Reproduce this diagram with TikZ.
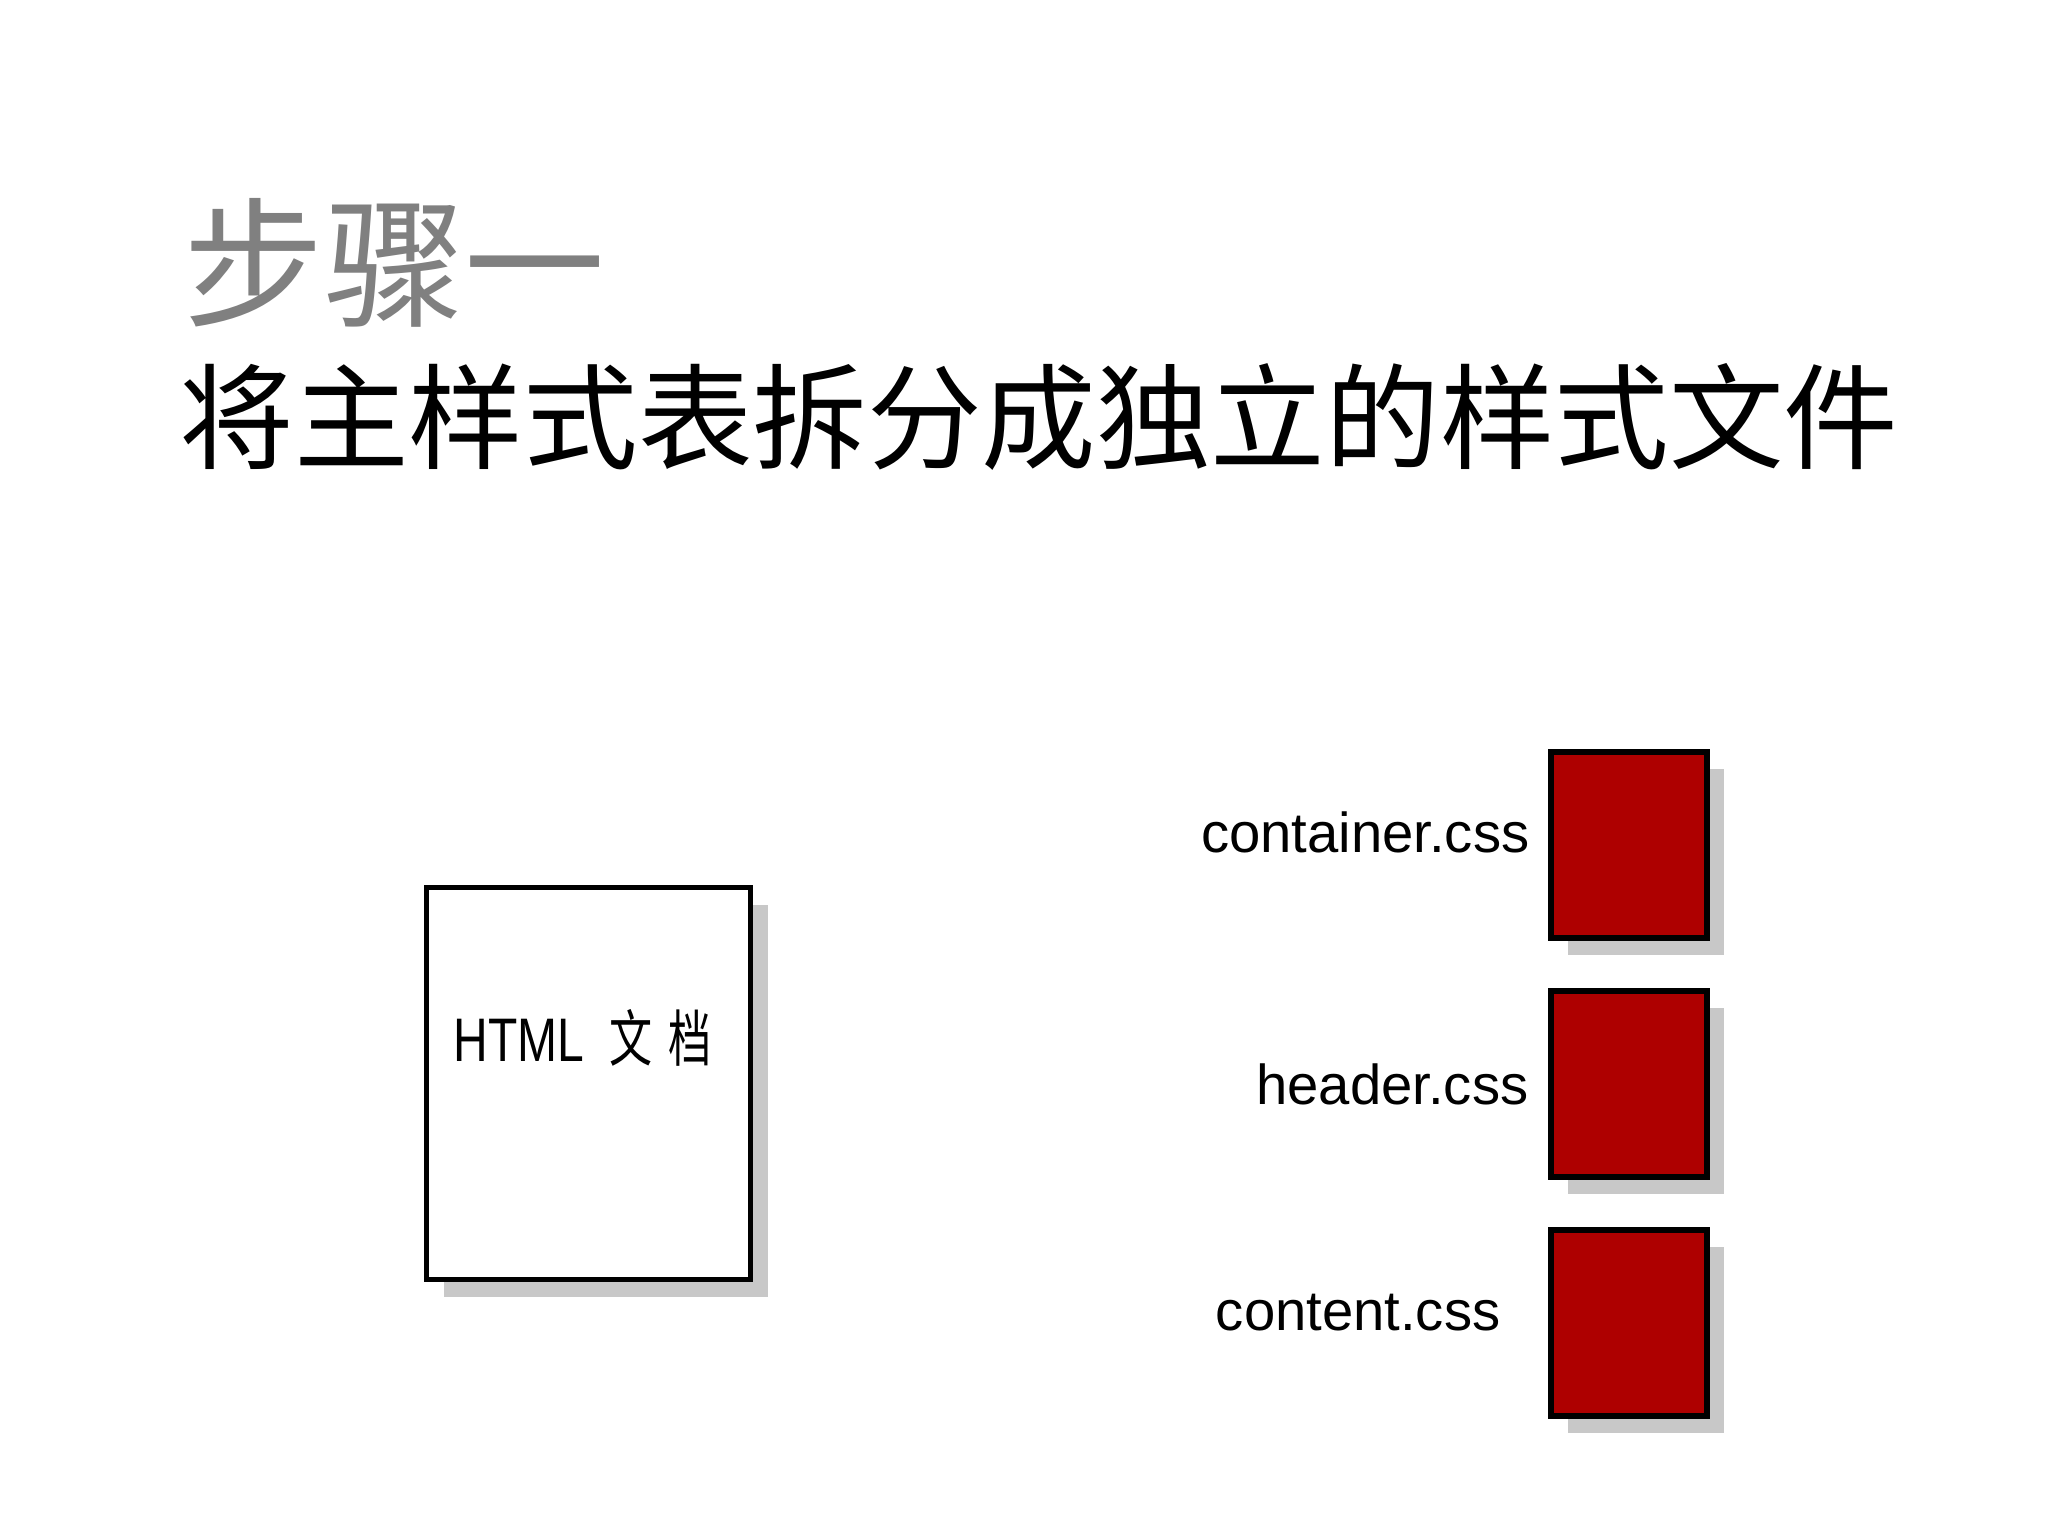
\documentclass[tikz,border=0pt]{standalone}
\usepackage{fontspec}
\setmainfont{Liberation Sans}
\newfontfamily\cjk{Noto Sans CJK SC}
\usetikzlibrary{shadows}
\definecolor{cssred}{RGB}{174,0,0}
\definecolor{shadowgray}{RGB}{200,200,200}
\definecolor{titlegray}{RGB}{128,128,128}

\begin{document}
\begin{tikzpicture}[x=0.1mm, y=-0.1mm,
  doc/.style={draw, line width=1.5pt, minimum width=32.4mm, minimum height=39.2mm, inner sep=0pt, fill=white, drop shadow={shadow xshift=1.7mm, shadow yshift=-1.7mm, fill=shadowgray, opacity=1}},
  cssfile/.style={doc, fill=cssred, minimum width=15.6mm, minimum height=18.6mm},
  filename/.style={anchor=base east, inner sep=0pt, font=\fontsize{16}{19}\selectfont}]
\useasboundingbox[fill=white] (0,0) rectangle (2048,1536);
\node[anchor=base west, inner sep=0pt, text=titlegray, font=\cjk\fontsize{40}{48}\selectfont] (step) at (183,316) {步骤一};
\node[anchor=base west, inner sep=0pt, font=\cjk\fontsize{32.6}{39}\selectfont] (goal) at (179,460) {将主样式表拆分成独立的样式文件};
\node[doc] (html) at (588.5,1083.5) {};
\node[anchor=base west, inner sep=0pt, font=\fontsize{17.5}{21}\selectfont] (htmltext) at (453,1061) {\scalebox{0.78}[1]{HTML}\hspace{2.5mm}\scalebox{0.7}[1]{\cjk 文}\hspace{1.6mm}\scalebox{0.7}[1]{\cjk 档}};
\node[cssfile] (container) at (1629,845) {};
\node[cssfile] (header) at (1629,1084) {};
\node[cssfile] (content) at (1629,1323) {};
\node[filename] (containerlabel) at (1530,852) {container.css};
\node[filename] (headerlabel) at (1529,1104) {header.css};
\node[filename] (contentlabel) at (1501,1330) {content.css};
\end{tikzpicture}
\end{document}
